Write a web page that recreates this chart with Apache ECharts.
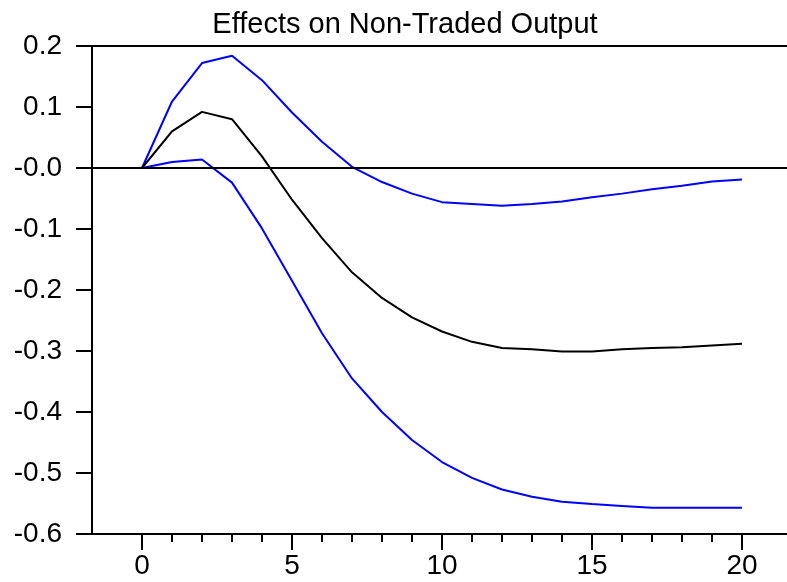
<!DOCTYPE html>
<html>
<head>
<meta charset="utf-8">
<script src="https://cdn.jsdelivr.net/npm/echarts@6/dist/echarts.min.js"></script>
<style>
html,body{margin:0;padding:0;background:#fff;}
#chart{width:787px;height:582px;}
</style>
</head>
<body>
<div id="chart"></div>
<script>
var periods = [0,1,2,3,4,5,6,7,8,9,10,11,12,13,14,15,16,17,18,19,20];
var upperBand = [0, 0.109, 0.172, 0.184, 0.144, 0.091, 0.043, 0.002, -0.023, -0.042, -0.056, -0.059, -0.062, -0.059, -0.055, -0.048, -0.042, -0.035, -0.029, -0.022, -0.019];
var response = [0, 0.060, 0.092, 0.080, 0.019, -0.052, -0.115, -0.171, -0.213, -0.245, -0.268, -0.285, -0.295, -0.297, -0.301, -0.301, -0.297, -0.295, -0.294, -0.291, -0.288];
var lowerBand = [0, 0.010, 0.014, -0.024, -0.099, -0.185, -0.271, -0.345, -0.400, -0.446, -0.482, -0.508, -0.527, -0.539, -0.547, -0.551, -0.554, -0.557, -0.557, -0.557, -0.557];
var xMajorTicks = [0, 5, 10, 15, 20];
var xMinorTicks = [1,2,3,4,6,7,8,9,11,12,13,14,16,17,18,19];
var yTicks = [-0.6, -0.5, -0.4, -0.3, -0.2, -0.1, 0, 0.1, 0.2];
var yTickLabels = ['-0.6','-0.5','-0.4','-0.3','-0.2','-0.1','-0.0','0.1','0.2'];
var titleText = 'Effects on Non-Traded Output';

function pairs(ys){ return periods.map(function(p,i){ return [p, ys[i]]; }); }
var FONT = 'Liberation Sans, Arial, sans-serif';

var chart = echarts.init(document.getElementById('chart'), null, {renderer:'canvas'});
chart.setOption({
  animation:false,
  backgroundColor:'#fff',
  title:{
    text:titleText, left:400, top:5, textAlign:'center',
    textStyle:{fontFamily:FONT, fontSize:29, fontWeight:'normal', color:'#000'}
  },
  grid:{left:92, top:46, right:0, bottom:48, containLabel:false},
  xAxis:[
    {type:'value', min:-5/3, max:21.5, position:'bottom',
     axisLine:{show:true, onZero:false, lineStyle:{color:'#000', width:2}},
     axisTick:{show:true, customValues:xMajorTicks, length:16, inside:false, lineStyle:{color:'#000', width:2}},
     axisLabel:{show:true, customValues:xMajorTicks, margin:18, fontFamily:FONT, fontSize:28, color:'#000'},
     splitLine:{show:false}},
    {type:'value', min:-5/3, max:21.5, position:'bottom',
     axisLine:{show:false, onZero:false},
     axisTick:{show:true, customValues:xMinorTicks, length:8, lineStyle:{color:'#000', width:2}},
     axisLabel:{show:false},
     splitLine:{show:false}},
    {type:'value', min:-5/3, max:21.5, position:'top',
     axisLine:{show:true, onZero:false, lineStyle:{color:'#000', width:2}},
     axisTick:{show:false}, axisLabel:{show:false}, splitLine:{show:false}}
  ],
  yAxis:{
    type:'value', min:-0.6, max:0.2,
    axisLine:{show:true, onZero:false, lineStyle:{color:'#000', width:2}},
    axisTick:{show:true, customValues:yTicks, length:16, lineStyle:{color:'#000', width:2}},
    axisLabel:{show:true, customValues:yTicks, margin:30, fontFamily:FONT, fontSize:28, color:'#000',
      formatter:function(v){
        for (var i=0;i<yTicks.length;i++){ if (Math.abs(yTicks[i]-v)<1e-9) return yTickLabels[i]; }
        return '';
      }},
    splitLine:{show:false}
  },
  series:[
    {type:'line', name:'upper', data:pairs(upperBand), xAxisIndex:0, symbol:'none',
     lineStyle:{color:'#0000ff', width:2}},
    {type:'line', name:'response', data:pairs(response), xAxisIndex:0, symbol:'none',
     lineStyle:{color:'#000', width:2},
     markLine:{silent:true, symbol:'none', label:{show:false},
       lineStyle:{color:'#000', width:2, type:'solid'}, data:[{yAxis:0}]}},
    {type:'line', name:'lower', data:pairs(lowerBand), xAxisIndex:0, symbol:'none',
     lineStyle:{color:'#0000ff', width:2}}
  ]
});
</script>
</body>
</html>
